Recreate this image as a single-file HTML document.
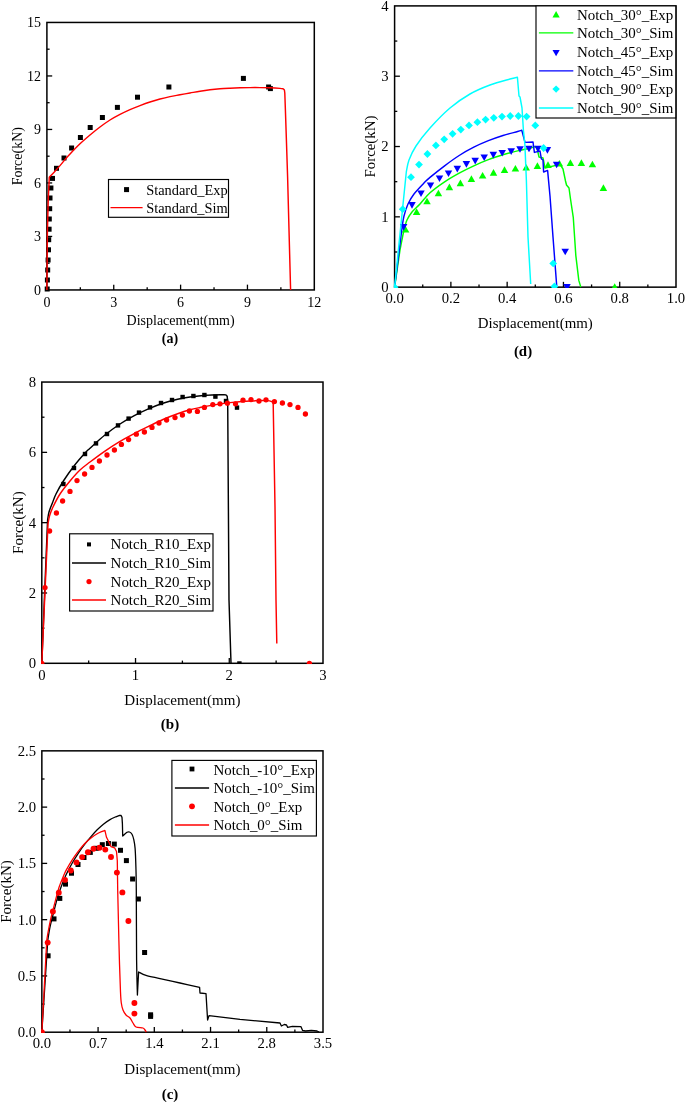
<!DOCTYPE html>
<html><head><meta charset="utf-8"><title>Force-Displacement curves</title>
<style>html,body{margin:0;padding:0;background:#fff}svg{display:block}text{font-family:"Liberation Serif", serif;fill:#000}</style>
</head><body>
<svg width="685" height="1102" viewBox="0 0 685 1102">
<rect width="685" height="1102" fill="#fff"/>
<rect x="46.9" y="22.45" width="267.4" height="267.5" fill="none" stroke="#000" stroke-width="1.5"/>
<line x1="80.33" y1="289.95" x2="80.33" y2="287.25" stroke="#000" stroke-width="1.3"/>
<text x="46.9" y="306.85" font-size="14" text-anchor="middle" >0</text>
<line x1="113.75" y1="289.95" x2="113.75" y2="284.65" stroke="#000" stroke-width="1.3"/>
<line x1="147.18" y1="289.95" x2="147.18" y2="287.25" stroke="#000" stroke-width="1.3"/>
<text x="113.75" y="306.85" font-size="14" text-anchor="middle" >3</text>
<line x1="180.6" y1="289.95" x2="180.6" y2="284.65" stroke="#000" stroke-width="1.3"/>
<line x1="214.03" y1="289.95" x2="214.03" y2="287.25" stroke="#000" stroke-width="1.3"/>
<text x="180.6" y="306.85" font-size="14" text-anchor="middle" >6</text>
<line x1="247.45" y1="289.95" x2="247.45" y2="284.65" stroke="#000" stroke-width="1.3"/>
<line x1="280.88" y1="289.95" x2="280.88" y2="287.25" stroke="#000" stroke-width="1.3"/>
<text x="247.45" y="306.85" font-size="14" text-anchor="middle" >9</text>
<text x="314.3" y="306.85" font-size="14" text-anchor="middle" >12</text>
<line x1="46.9" y1="263.2" x2="49.6" y2="263.2" stroke="#000" stroke-width="1.3"/>
<text x="41" y="294.57" font-size="14" text-anchor="end" >0</text>
<line x1="46.9" y1="236.45" x2="52.2" y2="236.45" stroke="#000" stroke-width="1.3"/>
<line x1="46.9" y1="209.7" x2="49.6" y2="209.7" stroke="#000" stroke-width="1.3"/>
<text x="41" y="241.07" font-size="14" text-anchor="end" >3</text>
<line x1="46.9" y1="182.95" x2="52.2" y2="182.95" stroke="#000" stroke-width="1.3"/>
<line x1="46.9" y1="156.2" x2="49.6" y2="156.2" stroke="#000" stroke-width="1.3"/>
<text x="41" y="187.57" font-size="14" text-anchor="end" >6</text>
<line x1="46.9" y1="129.45" x2="52.2" y2="129.45" stroke="#000" stroke-width="1.3"/>
<line x1="46.9" y1="102.7" x2="49.6" y2="102.7" stroke="#000" stroke-width="1.3"/>
<text x="41" y="134.07" font-size="14" text-anchor="end" >9</text>
<line x1="46.9" y1="75.95" x2="52.2" y2="75.95" stroke="#000" stroke-width="1.3"/>
<line x1="46.9" y1="49.2" x2="49.6" y2="49.2" stroke="#000" stroke-width="1.3"/>
<text x="41" y="80.57" font-size="14" text-anchor="end" >12</text>
<text x="41" y="27.07" font-size="14" text-anchor="end" >15</text>
<text x="180.6" y="324.95" font-size="14" text-anchor="middle" >Displacement(mm)</text>
<text x="170" y="343.45" font-size="14" text-anchor="middle" font-weight="bold" >(a)</text>
<text x="22.5" y="156.2" font-size="14" text-anchor="middle" transform="rotate(-90 22.5 156.2)" >Force(kN)</text>
<rect x="44.7" y="286.5" width="5" height="5" fill="#000000" />
<rect x="44.9" y="277.5" width="5" height="5" fill="#000000" />
<rect x="45.2" y="267.5" width="5" height="5" fill="#000000" />
<rect x="45.6" y="257.5" width="5" height="5" fill="#000000" />
<rect x="46" y="247.3" width="5" height="5" fill="#000000" />
<rect x="46.2" y="237.2" width="5" height="5" fill="#000000" />
<rect x="46.6" y="226.7" width="5" height="5" fill="#000000" />
<rect x="46.8" y="216.5" width="5" height="5" fill="#000000" />
<rect x="47.2" y="206.2" width="5" height="5" fill="#000000" />
<rect x="47.5" y="195.5" width="5" height="5" fill="#000000" />
<rect x="48.4" y="185.5" width="5" height="5" fill="#000000" />
<rect x="50" y="175.9" width="5" height="5" fill="#000000" />
<rect x="54" y="165.8" width="5" height="5" fill="#000000" />
<rect x="61.5" y="155.5" width="5" height="5" fill="#000000" />
<rect x="69.1" y="145.5" width="5" height="5" fill="#000000" />
<rect x="77.9" y="135" width="5" height="5" fill="#000000" />
<rect x="87.7" y="125" width="5" height="5" fill="#000000" />
<rect x="99.9" y="115" width="5" height="5" fill="#000000" />
<rect x="114.9" y="104.9" width="5" height="5" fill="#000000" />
<rect x="135" y="94.7" width="5" height="5" fill="#000000" />
<rect x="166.4" y="84.5" width="5" height="5" fill="#000000" />
<rect x="240.9" y="75.9" width="5" height="5" fill="#000000" />
<rect x="266.1" y="84.5" width="5" height="5" fill="#000000" />
<rect x="267.9" y="86.1" width="5" height="5" fill="#000000" />
<path d="M46.9,289.95 L47.4,232 L48.3,198 L49.3,177.2 C50.25,176.2 53.22,173.13 55,171.2 C56.78,169.27 58.33,167.53 60,165.6 C61.67,163.67 63.33,161.53 65,159.6 C66.67,157.67 67.5,156.63 70,154 C72.5,151.37 76.67,146.97 80,143.8 C83.33,140.63 86.67,137.8 90,135 C93.33,132.2 96.67,129.5 100,127 C103.33,124.5 106.67,122.1 110,120 C113.33,117.9 116.67,116.13 120,114.4 C123.33,112.67 126.67,111.07 130,109.6 C133.33,108.13 136.67,106.87 140,105.6 C143.33,104.33 146.67,103.1 150,102 C153.33,100.9 156.67,99.9 160,99 C163.33,98.1 166.67,97.3 170,96.6 C173.33,95.9 176.67,95.4 180,94.8 C183.33,94.2 186.67,93.6 190,93 C193.33,92.4 196.67,91.73 200,91.2 C203.33,90.67 206.67,90.2 210,89.8 C213.33,89.4 216.67,89.07 220,88.8 C223.33,88.53 226.67,88.37 230,88.2 C233.33,88.03 236.67,87.9 240,87.8 C243.33,87.7 246.67,87.63 250,87.6 C253.33,87.57 256.67,87.57 260,87.6 C263.33,87.63 266.67,87.67 270,87.8 C273.33,87.93 277.77,88.22 280,88.4 C282.23,88.58 282.83,88.82 283.4,88.9 L284.4,90 L284.8,93 L285.4,110 L286.4,140 L287.6,177 L290.6,289.95" fill="none" stroke="#ff0000" stroke-width="1.45" stroke-linejoin="round" />
<rect x="108.5" y="179.5" width="120" height="37.8" fill="#fff" stroke="#000" stroke-width="1.15"/>
<rect x="124.05" y="187.1" width="5" height="5" fill="#000000" />
<text x="146.2" y="194.6" font-size="14.4" text-anchor="start" >Standard_Exp</text>
<polyline points="110.5,207.7 142.6,207.7" fill="none" stroke="#ff0000" stroke-width="1.3" stroke-linejoin="round" stroke-linecap="butt" />
<text x="146.2" y="212.5" font-size="14.4" text-anchor="start" >Standard_Sim</text>
<rect x="394.6" y="5.9" width="281.4" height="281.25" fill="none" stroke="#000" stroke-width="1.5"/>
<line x1="422.74" y1="287.15" x2="422.74" y2="284.45" stroke="#000" stroke-width="1.3"/>
<text x="394.6" y="303.45" font-size="14.7" text-anchor="middle" >0.0</text>
<line x1="450.88" y1="287.15" x2="450.88" y2="281.85" stroke="#000" stroke-width="1.3"/>
<line x1="479.02" y1="287.15" x2="479.02" y2="284.45" stroke="#000" stroke-width="1.3"/>
<text x="450.88" y="303.45" font-size="14.7" text-anchor="middle" >0.2</text>
<line x1="507.16" y1="287.15" x2="507.16" y2="281.85" stroke="#000" stroke-width="1.3"/>
<line x1="535.3" y1="287.15" x2="535.3" y2="284.45" stroke="#000" stroke-width="1.3"/>
<text x="507.16" y="303.45" font-size="14.7" text-anchor="middle" >0.4</text>
<line x1="563.44" y1="287.15" x2="563.44" y2="281.85" stroke="#000" stroke-width="1.3"/>
<line x1="591.58" y1="287.15" x2="591.58" y2="284.45" stroke="#000" stroke-width="1.3"/>
<text x="563.44" y="303.45" font-size="14.7" text-anchor="middle" >0.6</text>
<line x1="619.72" y1="287.15" x2="619.72" y2="281.85" stroke="#000" stroke-width="1.3"/>
<line x1="647.86" y1="287.15" x2="647.86" y2="284.45" stroke="#000" stroke-width="1.3"/>
<text x="619.72" y="303.45" font-size="14.7" text-anchor="middle" >0.8</text>
<text x="676" y="303.45" font-size="14.7" text-anchor="middle" >1.0</text>
<line x1="394.6" y1="251.99" x2="397.3" y2="251.99" stroke="#000" stroke-width="1.3"/>
<text x="388.5" y="292" font-size="14.7" text-anchor="end" >0</text>
<line x1="394.6" y1="216.84" x2="399.9" y2="216.84" stroke="#000" stroke-width="1.3"/>
<line x1="394.6" y1="181.68" x2="397.3" y2="181.68" stroke="#000" stroke-width="1.3"/>
<text x="388.5" y="221.69" font-size="14.7" text-anchor="end" >1</text>
<line x1="394.6" y1="146.52" x2="399.9" y2="146.52" stroke="#000" stroke-width="1.3"/>
<line x1="394.6" y1="111.37" x2="397.3" y2="111.37" stroke="#000" stroke-width="1.3"/>
<text x="388.5" y="151.38" font-size="14.7" text-anchor="end" >2</text>
<line x1="394.6" y1="76.21" x2="399.9" y2="76.21" stroke="#000" stroke-width="1.3"/>
<line x1="394.6" y1="41.06" x2="397.3" y2="41.06" stroke="#000" stroke-width="1.3"/>
<text x="388.5" y="81.06" font-size="14.7" text-anchor="end" >3</text>
<text x="388.5" y="10.75" font-size="14.7" text-anchor="end" >4</text>
<text x="535.3" y="328.15" font-size="14.9" text-anchor="middle" >Displacement(mm)</text>
<text x="523" y="356.15" font-size="14.9" text-anchor="middle" font-weight="bold" >(d)</text>
<text x="375.5" y="146.52" font-size="14.9" text-anchor="middle" transform="rotate(-90 375.5 146.52)" >Force(kN)</text>
<clipPath id="clipd"><rect x="393.85" y="0.9000000000000004" width="286.4" height="287.0"/></clipPath>
<polygon points="405.6,225.9 401.85,232.5 409.35,232.5" fill="#00ff00" clip-path="url(#clipd)"/>
<polygon points="416.6,208.3 412.85,214.9 420.35,214.9" fill="#00ff00" clip-path="url(#clipd)"/>
<polygon points="427,197.7 423.25,204.3 430.75,204.3" fill="#00ff00" clip-path="url(#clipd)"/>
<polygon points="438.4,189.7 434.65,196.3 442.15,196.3" fill="#00ff00" clip-path="url(#clipd)"/>
<polygon points="449.4,183.6 445.65,190.2 453.15,190.2" fill="#00ff00" clip-path="url(#clipd)"/>
<polygon points="460.4,179.6 456.65,186.2 464.15,186.2" fill="#00ff00" clip-path="url(#clipd)"/>
<polygon points="471.4,175.3 467.65,181.9 475.15,181.9" fill="#00ff00" clip-path="url(#clipd)"/>
<polygon points="482.6,171.9 478.85,178.5 486.35,178.5" fill="#00ff00" clip-path="url(#clipd)"/>
<polygon points="493.5,169.1 489.75,175.7 497.25,175.7" fill="#00ff00" clip-path="url(#clipd)"/>
<polygon points="504.5,166.3 500.75,172.9 508.25,172.9" fill="#00ff00" clip-path="url(#clipd)"/>
<polygon points="515.4,165 511.65,171.6 519.15,171.6" fill="#00ff00" clip-path="url(#clipd)"/>
<polygon points="526.2,164 522.45,170.6 529.95,170.6" fill="#00ff00" clip-path="url(#clipd)"/>
<polygon points="537.4,162.3 533.65,168.9 541.15,168.9" fill="#00ff00" clip-path="url(#clipd)"/>
<polygon points="548,161.3 544.25,167.9 551.75,167.9" fill="#00ff00" clip-path="url(#clipd)"/>
<polygon points="559.4,159.9 555.65,166.5 563.15,166.5" fill="#00ff00" clip-path="url(#clipd)"/>
<polygon points="570.4,159.3 566.65,165.9 574.15,165.9" fill="#00ff00" clip-path="url(#clipd)"/>
<polygon points="581.4,159.3 577.65,165.9 585.15,165.9" fill="#00ff00" clip-path="url(#clipd)"/>
<polygon points="592.4,160.7 588.65,167.3 596.15,167.3" fill="#00ff00" clip-path="url(#clipd)"/>
<polygon points="603.4,184.3 599.65,190.9 607.15,190.9" fill="#00ff00" clip-path="url(#clipd)"/>
<polygon points="614.7,283.3 610.95,289.9 618.45,289.9" fill="#00ff00" clip-path="url(#clipd)"/>
<path d="M394.6,287.15 L400,250 C400.67,246.67 402.83,235 404,230 C405.17,225 405.67,223 407,220 C408.33,217 409.83,214.67 412,212 C414.17,209.33 417,207.2 420,204 C423,200.8 425.9,196.5 430,192.8 C434.1,189.1 439.73,185.08 444.6,181.8 C449.47,178.52 454.33,175.77 459.2,173.1 C464.07,170.43 468.93,168.05 473.8,165.8 C478.67,163.55 483.53,161.43 488.4,159.6 C493.27,157.77 498.13,156.25 503,154.8 C507.87,153.35 513.1,152 517.6,150.9 C522.1,149.8 527.1,148.92 530,148.2 C532.9,147.48 534.17,146.87 535,146.6 L537,148 L539,157 L543,158 L545,168 L560,164.4 L563,169 L565.5,181 L566.5,185 L569,188 L570.5,199 L573.3,217.7 L575.8,255.3 L578.8,280.4 L580.8,287.15" fill="none" stroke="#00ff00" stroke-width="1.45" stroke-linejoin="round" />
<polygon points="403.6,230.7 399.85,224.1 407.35,224.1" fill="#0000ff" clip-path="url(#clipd)"/>
<polygon points="412,208.7 408.25,202.1 415.75,202.1" fill="#0000ff" clip-path="url(#clipd)"/>
<polygon points="421,197.1 417.25,190.5 424.75,190.5" fill="#0000ff" clip-path="url(#clipd)"/>
<polygon points="430.5,189.1 426.75,182.5 434.25,182.5" fill="#0000ff" clip-path="url(#clipd)"/>
<polygon points="439.5,182 435.75,175.4 443.25,175.4" fill="#0000ff" clip-path="url(#clipd)"/>
<polygon points="448.5,177 444.75,170.4 452.25,170.4" fill="#0000ff" clip-path="url(#clipd)"/>
<polygon points="457.3,172.4 453.55,165.8 461.05,165.8" fill="#0000ff" clip-path="url(#clipd)"/>
<polygon points="466.4,167.7 462.65,161.1 470.15,161.1" fill="#0000ff" clip-path="url(#clipd)"/>
<polygon points="475.2,164.4 471.45,157.8 478.95,157.8" fill="#0000ff" clip-path="url(#clipd)"/>
<polygon points="484.2,161.1 480.45,154.5 487.95,154.5" fill="#0000ff" clip-path="url(#clipd)"/>
<polygon points="493.3,158.4 489.55,151.8 497.05,151.8" fill="#0000ff" clip-path="url(#clipd)"/>
<polygon points="502.2,156.5 498.45,149.9 505.95,149.9" fill="#0000ff" clip-path="url(#clipd)"/>
<polygon points="511.2,154.9 507.45,148.3 514.95,148.3" fill="#0000ff" clip-path="url(#clipd)"/>
<polygon points="520,152.8 516.25,146.2 523.75,146.2" fill="#0000ff" clip-path="url(#clipd)"/>
<polygon points="529,152.3 525.25,145.7 532.75,145.7" fill="#0000ff" clip-path="url(#clipd)"/>
<polygon points="538,152.3 534.25,145.7 541.75,145.7" fill="#0000ff" clip-path="url(#clipd)"/>
<polygon points="547.4,153.7 543.65,147.1 551.15,147.1" fill="#0000ff" clip-path="url(#clipd)"/>
<polygon points="556.6,168.3 552.85,161.7 560.35,161.7" fill="#0000ff" clip-path="url(#clipd)"/>
<polygon points="565.2,255.3 561.45,248.7 568.95,248.7" fill="#0000ff" clip-path="url(#clipd)"/>
<polygon points="567,290.7 563.25,284.1 570.75,284.1" fill="#0000ff" clip-path="url(#clipd)"/>
<path d="M394.6,287.15 L402,228 C402.33,226 403,220 404,216 C405,212 406.33,207.67 408,204 C409.67,200.33 411.33,197.5 414,194 C416.67,190.5 421.33,185.77 424,183 C426.67,180.23 426.57,180.27 430,177.4 C433.43,174.53 439.73,169.45 444.6,165.8 C449.47,162.15 454.33,158.6 459.2,155.5 C464.07,152.4 468.93,149.67 473.8,147.2 C478.67,144.73 483.53,142.65 488.4,140.7 C493.27,138.75 498.13,137.03 503,135.5 C507.87,133.97 514.47,132.38 517.6,131.5 C520.73,130.62 521.1,130.42 521.8,130.2 L525,142.4 L533,142 L534.4,152.4 L540,151 L541.4,159 L543,160 L543.6,172 L547.6,170.4 L550,196 L553,237 L556.8,287.15" fill="none" stroke="#0000ff" stroke-width="1.45" stroke-linejoin="round" />
<polygon points="394.6,283.3 398.5,287.2 394.6,291.1 390.7,287.2" fill="#00ffff" clip-path="url(#clipd)"/>
<polygon points="402.7,205.3 406.6,209.2 402.7,213.1 398.8,209.2" fill="#00ffff" clip-path="url(#clipd)"/>
<polygon points="411,173.3 414.9,177.2 411,181.1 407.1,177.2" fill="#00ffff" clip-path="url(#clipd)"/>
<polygon points="419,160.7 422.9,164.6 419,168.5 415.1,164.6" fill="#00ffff" clip-path="url(#clipd)"/>
<polygon points="427.4,150.1 431.3,154 427.4,157.9 423.5,154" fill="#00ffff" clip-path="url(#clipd)"/>
<polygon points="435.9,141.5 439.8,145.4 435.9,149.3 432,145.4" fill="#00ffff" clip-path="url(#clipd)"/>
<polygon points="444.2,135.4 448.1,139.3 444.2,143.2 440.3,139.3" fill="#00ffff" clip-path="url(#clipd)"/>
<polygon points="452.6,129.9 456.5,133.8 452.6,137.7 448.7,133.8" fill="#00ffff" clip-path="url(#clipd)"/>
<polygon points="460.8,125.7 464.7,129.6 460.8,133.5 456.9,129.6" fill="#00ffff" clip-path="url(#clipd)"/>
<polygon points="469,121.5 472.9,125.4 469,129.3 465.1,125.4" fill="#00ffff" clip-path="url(#clipd)"/>
<polygon points="477.4,118.3 481.3,122.2 477.4,126.1 473.5,122.2" fill="#00ffff" clip-path="url(#clipd)"/>
<polygon points="485.6,115.7 489.5,119.6 485.6,123.5 481.7,119.6" fill="#00ffff" clip-path="url(#clipd)"/>
<polygon points="493.8,113.9 497.7,117.8 493.8,121.7 489.9,117.8" fill="#00ffff" clip-path="url(#clipd)"/>
<polygon points="502,112.7 505.9,116.6 502,120.5 498.1,116.6" fill="#00ffff" clip-path="url(#clipd)"/>
<polygon points="510.2,112.1 514.1,116 510.2,119.9 506.3,116" fill="#00ffff" clip-path="url(#clipd)"/>
<polygon points="518.4,112.1 522.3,116 518.4,119.9 514.5,116" fill="#00ffff" clip-path="url(#clipd)"/>
<polygon points="526.6,112.7 530.5,116.6 526.6,120.5 522.7,116.6" fill="#00ffff" clip-path="url(#clipd)"/>
<polygon points="535.3,121.5 539.2,125.4 535.3,129.3 531.4,125.4" fill="#00ffff" clip-path="url(#clipd)"/>
<polygon points="543.6,144.1 547.5,148 543.6,151.9 539.7,148" fill="#00ffff" clip-path="url(#clipd)"/>
<polygon points="553.2,259.5 557.1,263.4 553.2,267.3 549.3,263.4" fill="#00ffff" clip-path="url(#clipd)"/>
<polygon points="554.4,282.6 558.3,286.5 554.4,290.4 550.5,286.5" fill="#00ffff" clip-path="url(#clipd)"/>
<path d="M394.6,287.15 L406.3,172 C406.75,170 407.38,164.33 409,160 C410.62,155.67 412.5,151.33 416,146 C419.5,140.67 424.33,134.33 430,128 C435.67,121.67 443.33,113.67 450,108 C456.67,102.33 463.33,97.83 470,94 C476.67,90.17 483.33,87.5 490,85 C496.67,82.5 505.43,80.3 510,79 C514.57,77.7 516.17,77.5 517.4,77.2 L519,96 L520,97 L522,108 L523.4,130 L524.9,144.6 L526.4,181 L528,237 L530.7,284" fill="none" stroke="#00ffff" stroke-width="1.45" stroke-linejoin="round" />
<rect x="536" y="5.9" width="139.8" height="112.1" fill="#fff" stroke="#000" stroke-width="1.15"/>
<polygon points="556.1,11.05 552.5,17.39 559.7,17.39" fill="#00ff00" />
<text x="576.9" y="19.6" font-size="14.95" text-anchor="start" >Notch_30°_Exp</text>
<polyline points="538.9,32.8 573.3,32.8" fill="none" stroke="#00ff00" stroke-width="1.3" stroke-linejoin="round" stroke-linecap="butt" />
<text x="576.9" y="38.25" font-size="14.95" text-anchor="start" >Notch_30°_Sim</text>
<polygon points="556.1,56.25 552.5,49.91 559.7,49.91" fill="#0000ff" />
<text x="576.9" y="57.25" font-size="14.95" text-anchor="start" >Notch_45°_Exp</text>
<polyline points="538.9,70.8 573.3,70.8" fill="none" stroke="#0000ff" stroke-width="1.3" stroke-linejoin="round" stroke-linecap="butt" />
<text x="576.9" y="75.8" font-size="14.95" text-anchor="start" >Notch_45°_Sim</text>
<polygon points="556.1,85.4 559.8,89.1 556.1,92.8 552.4,89.1" fill="#00ffff" />
<text x="576.9" y="94.1" font-size="14.95" text-anchor="start" >Notch_90°_Exp</text>
<polyline points="538.9,108 573.3,108" fill="none" stroke="#00ffff" stroke-width="1.3" stroke-linejoin="round" stroke-linecap="butt" />
<text x="576.9" y="113" font-size="14.95" text-anchor="start" >Notch_90°_Sim</text>
<rect x="41.8" y="382.05" width="281.2" height="281.25" fill="none" stroke="#000" stroke-width="1.5"/>
<line x1="88.67" y1="663.3" x2="88.67" y2="660.6" stroke="#000" stroke-width="1.3"/>
<text x="41.8" y="680.3" font-size="14.7" text-anchor="middle" >0</text>
<line x1="135.53" y1="663.3" x2="135.53" y2="658" stroke="#000" stroke-width="1.3"/>
<line x1="182.4" y1="663.3" x2="182.4" y2="660.6" stroke="#000" stroke-width="1.3"/>
<text x="135.53" y="680.3" font-size="14.7" text-anchor="middle" >1</text>
<line x1="229.27" y1="663.3" x2="229.27" y2="658" stroke="#000" stroke-width="1.3"/>
<line x1="276.13" y1="663.3" x2="276.13" y2="660.6" stroke="#000" stroke-width="1.3"/>
<text x="229.27" y="680.3" font-size="14.7" text-anchor="middle" >2</text>
<text x="323" y="680.3" font-size="14.7" text-anchor="middle" >3</text>
<line x1="41.8" y1="628.14" x2="44.5" y2="628.14" stroke="#000" stroke-width="1.3"/>
<text x="36" y="668.15" font-size="14.7" text-anchor="end" >0</text>
<line x1="41.8" y1="592.99" x2="47.1" y2="592.99" stroke="#000" stroke-width="1.3"/>
<line x1="41.8" y1="557.83" x2="44.5" y2="557.83" stroke="#000" stroke-width="1.3"/>
<text x="36" y="597.84" font-size="14.7" text-anchor="end" >2</text>
<line x1="41.8" y1="522.67" x2="47.1" y2="522.67" stroke="#000" stroke-width="1.3"/>
<line x1="41.8" y1="487.52" x2="44.5" y2="487.52" stroke="#000" stroke-width="1.3"/>
<text x="36" y="527.53" font-size="14.7" text-anchor="end" >4</text>
<line x1="41.8" y1="452.36" x2="47.1" y2="452.36" stroke="#000" stroke-width="1.3"/>
<line x1="41.8" y1="417.21" x2="44.5" y2="417.21" stroke="#000" stroke-width="1.3"/>
<text x="36" y="457.21" font-size="14.7" text-anchor="end" >6</text>
<text x="36" y="386.9" font-size="14.7" text-anchor="end" >8</text>
<text x="182.4" y="705.3" font-size="15.05" text-anchor="middle" >Displacement(mm)</text>
<text x="170" y="729.3" font-size="15.05" text-anchor="middle" font-weight="bold" >(b)</text>
<text x="22.9" y="522.67" font-size="15.05" text-anchor="middle" transform="rotate(-90 22.9 522.67)" >Force(kN)</text>
<clipPath id="clipb"><rect x="41.05" y="382.05" width="286.2" height="281.99999999999994"/></clipPath>
<rect x="61.2" y="481.8" width="4.4" height="4.4" fill="#000000" clip-path="url(#clipb)"/>
<rect x="71.8" y="465.8" width="4.4" height="4.4" fill="#000000" clip-path="url(#clipb)"/>
<rect x="82.8" y="451.8" width="4.4" height="4.4" fill="#000000" clip-path="url(#clipb)"/>
<rect x="93.8" y="441.2" width="4.4" height="4.4" fill="#000000" clip-path="url(#clipb)"/>
<rect x="104.8" y="431.8" width="4.4" height="4.4" fill="#000000" clip-path="url(#clipb)"/>
<rect x="115.8" y="423.2" width="4.4" height="4.4" fill="#000000" clip-path="url(#clipb)"/>
<rect x="126.4" y="416.4" width="4.4" height="4.4" fill="#000000" clip-path="url(#clipb)"/>
<rect x="136.8" y="410.4" width="4.4" height="4.4" fill="#000000" clip-path="url(#clipb)"/>
<rect x="147.8" y="405.2" width="4.4" height="4.4" fill="#000000" clip-path="url(#clipb)"/>
<rect x="158.8" y="400.8" width="4.4" height="4.4" fill="#000000" clip-path="url(#clipb)"/>
<rect x="169.8" y="397.8" width="4.4" height="4.4" fill="#000000" clip-path="url(#clipb)"/>
<rect x="180.4" y="394.8" width="4.4" height="4.4" fill="#000000" clip-path="url(#clipb)"/>
<rect x="191.2" y="393.8" width="4.4" height="4.4" fill="#000000" clip-path="url(#clipb)"/>
<rect x="202.2" y="392.8" width="4.4" height="4.4" fill="#000000" clip-path="url(#clipb)"/>
<rect x="213.2" y="394.4" width="4.4" height="4.4" fill="#000000" clip-path="url(#clipb)"/>
<rect x="223.8" y="398.8" width="4.4" height="4.4" fill="#000000" clip-path="url(#clipb)"/>
<rect x="234.8" y="405.4" width="4.4" height="4.4" fill="#000000" clip-path="url(#clipb)"/>
<rect x="237.2" y="661.3" width="4.4" height="4.4" fill="#000000" clip-path="url(#clipb)"/>
<path d="M41.8,663.3 L47.6,520 C47.83,518.67 48.2,514.83 49,512 C49.8,509.17 51.23,506 52.4,503 C53.57,500 54.17,497.67 56,494 C57.83,490.33 60.4,485.67 63.4,481 C66.4,476.33 70.4,470.67 74,466 C77.6,461.33 82.33,455.97 85,453 C87.67,450.03 86.73,451.15 90,448.2 C93.27,445.25 99.73,439.25 104.6,435.3 C109.47,431.35 114.33,427.75 119.2,424.5 C124.07,421.25 128.93,418.42 133.8,415.8 C138.67,413.18 143.53,410.9 148.4,408.8 C153.27,406.7 158.13,404.78 163,403.2 C167.87,401.62 173.1,400.33 177.6,399.3 C182.1,398.27 185.27,397.68 190,397 C194.73,396.32 200.33,395.6 206,395.2 C211.67,394.8 221,394.7 224,394.6 L226,394.9 L227.2,396.2 L227.7,402 L229,600 L231,663.3" fill="none" stroke="#000000" stroke-width="1.45" stroke-linejoin="round" />
<circle cx="41.8" cy="663.3" r="2.65" fill="#ff0000" clip-path="url(#clipb)"/>
<circle cx="45" cy="587.6" r="2.65" fill="#ff0000" clip-path="url(#clipb)"/>
<circle cx="49.6" cy="531" r="2.65" fill="#ff0000" clip-path="url(#clipb)"/>
<circle cx="56.4" cy="513" r="2.65" fill="#ff0000" clip-path="url(#clipb)"/>
<circle cx="62.6" cy="501" r="2.65" fill="#ff0000" clip-path="url(#clipb)"/>
<circle cx="70" cy="491.4" r="2.65" fill="#ff0000" clip-path="url(#clipb)"/>
<circle cx="77" cy="480.6" r="2.65" fill="#ff0000" clip-path="url(#clipb)"/>
<circle cx="84.6" cy="474" r="2.65" fill="#ff0000" clip-path="url(#clipb)"/>
<circle cx="92" cy="467.4" r="2.65" fill="#ff0000" clip-path="url(#clipb)"/>
<circle cx="99.4" cy="461" r="2.65" fill="#ff0000" clip-path="url(#clipb)"/>
<circle cx="107" cy="455" r="2.65" fill="#ff0000" clip-path="url(#clipb)"/>
<circle cx="114.4" cy="450" r="2.65" fill="#ff0000" clip-path="url(#clipb)"/>
<circle cx="121.4" cy="444.4" r="2.65" fill="#ff0000" clip-path="url(#clipb)"/>
<circle cx="128.6" cy="439.6" r="2.65" fill="#ff0000" clip-path="url(#clipb)"/>
<circle cx="136.3" cy="434.2" r="2.65" fill="#ff0000" clip-path="url(#clipb)"/>
<circle cx="144.4" cy="432" r="2.65" fill="#ff0000" clip-path="url(#clipb)"/>
<circle cx="152" cy="427.4" r="2.65" fill="#ff0000" clip-path="url(#clipb)"/>
<circle cx="159" cy="423" r="2.65" fill="#ff0000" clip-path="url(#clipb)"/>
<circle cx="166.6" cy="420" r="2.65" fill="#ff0000" clip-path="url(#clipb)"/>
<circle cx="175" cy="417.6" r="2.65" fill="#ff0000" clip-path="url(#clipb)"/>
<circle cx="182.4" cy="415" r="2.65" fill="#ff0000" clip-path="url(#clipb)"/>
<circle cx="189.4" cy="411" r="2.65" fill="#ff0000" clip-path="url(#clipb)"/>
<circle cx="197.4" cy="411.4" r="2.65" fill="#ff0000" clip-path="url(#clipb)"/>
<circle cx="204.4" cy="407.4" r="2.65" fill="#ff0000" clip-path="url(#clipb)"/>
<circle cx="212.8" cy="404.6" r="2.65" fill="#ff0000" clip-path="url(#clipb)"/>
<circle cx="220" cy="403.8" r="2.65" fill="#ff0000" clip-path="url(#clipb)"/>
<circle cx="227.4" cy="403.2" r="2.65" fill="#ff0000" clip-path="url(#clipb)"/>
<circle cx="235.5" cy="403.8" r="2.65" fill="#ff0000" clip-path="url(#clipb)"/>
<circle cx="243" cy="400.2" r="2.65" fill="#ff0000" clip-path="url(#clipb)"/>
<circle cx="251" cy="399.6" r="2.65" fill="#ff0000" clip-path="url(#clipb)"/>
<circle cx="259" cy="401" r="2.65" fill="#ff0000" clip-path="url(#clipb)"/>
<circle cx="266" cy="399.8" r="2.65" fill="#ff0000" clip-path="url(#clipb)"/>
<circle cx="274.4" cy="401.6" r="2.65" fill="#ff0000" clip-path="url(#clipb)"/>
<circle cx="282.4" cy="403" r="2.65" fill="#ff0000" clip-path="url(#clipb)"/>
<circle cx="290" cy="404.6" r="2.65" fill="#ff0000" clip-path="url(#clipb)"/>
<circle cx="298" cy="407.4" r="2.65" fill="#ff0000" clip-path="url(#clipb)"/>
<circle cx="305.4" cy="414" r="2.65" fill="#ff0000" clip-path="url(#clipb)"/>
<circle cx="309.4" cy="663.5" r="2.65" fill="#ff0000" clip-path="url(#clipb)"/>
<path d="M41.8,663.3 L48,524 C48.25,522.67 48.67,518.83 49.5,516 C50.33,513.17 51.25,510.67 53,507 C54.75,503.33 57.17,498.33 60,494 C62.83,489.67 66.67,485 70,481 C73.33,477 76.67,473.17 80,470 C83.33,466.83 85.9,465.12 90,462 C94.1,458.88 99.73,454.67 104.6,451.3 C109.47,447.93 114.33,444.72 119.2,441.8 C124.07,438.88 128.93,436.35 133.8,433.8 C138.67,431.25 143.53,428.88 148.4,426.5 C153.27,424.12 158.13,421.62 163,419.5 C167.87,417.38 173.1,415.42 177.6,413.8 C182.1,412.18 186.27,410.85 190,409.8 C193.73,408.75 196.67,408.2 200,407.5 C203.33,406.8 205,406.42 210,405.6 C215,404.78 223.33,403.37 230,402.6 C236.67,401.83 243.83,401.33 250,401 C256.17,400.67 263.25,400.43 267,400.6 C270.75,400.77 271.58,401.77 272.5,402 L273.2,404 L275,507 L276,600 L276.8,643.6" fill="none" stroke="#ff0000" stroke-width="1.45" stroke-linejoin="round" />
<rect x="69.6" y="533.8" width="143.4" height="77.2" fill="#fff" stroke="#000" stroke-width="1.15"/>
<rect x="87" y="542.4" width="4" height="4" fill="#000000" />
<text x="110.6" y="549.4" font-size="14.95" text-anchor="start" >Notch_R10_Exp</text>
<polyline points="72,563 106,563" fill="none" stroke="#000000" stroke-width="1.3" stroke-linejoin="round" stroke-linecap="butt" />
<text x="110.6" y="568" font-size="14.95" text-anchor="start" >Notch_R10_Sim</text>
<circle cx="89" cy="581.6" r="2.6" fill="#ff0000" />
<text x="110.6" y="586.6" font-size="14.95" text-anchor="start" >Notch_R20_Exp</text>
<polyline points="72,600 106,600" fill="none" stroke="#ff0000" stroke-width="1.3" stroke-linejoin="round" stroke-linecap="butt" />
<text x="110.6" y="605" font-size="14.95" text-anchor="start" >Notch_R20_Sim</text>
<rect x="41.85" y="750.85" width="281.15" height="281.35" fill="none" stroke="#000" stroke-width="1.5"/>
<line x1="69.97" y1="1032.2" x2="69.97" y2="1029.5" stroke="#000" stroke-width="1.3"/>
<text x="41.85" y="1048.2" font-size="14.7" text-anchor="middle" >0.0</text>
<line x1="98.08" y1="1032.2" x2="98.08" y2="1026.9" stroke="#000" stroke-width="1.3"/>
<line x1="126.19" y1="1032.2" x2="126.19" y2="1029.5" stroke="#000" stroke-width="1.3"/>
<text x="98.08" y="1048.2" font-size="14.7" text-anchor="middle" >0.7</text>
<line x1="154.31" y1="1032.2" x2="154.31" y2="1026.9" stroke="#000" stroke-width="1.3"/>
<line x1="182.42" y1="1032.2" x2="182.42" y2="1029.5" stroke="#000" stroke-width="1.3"/>
<text x="154.31" y="1048.2" font-size="14.7" text-anchor="middle" >1.4</text>
<line x1="210.54" y1="1032.2" x2="210.54" y2="1026.9" stroke="#000" stroke-width="1.3"/>
<line x1="238.65" y1="1032.2" x2="238.65" y2="1029.5" stroke="#000" stroke-width="1.3"/>
<text x="210.54" y="1048.2" font-size="14.7" text-anchor="middle" >2.1</text>
<line x1="266.77" y1="1032.2" x2="266.77" y2="1026.9" stroke="#000" stroke-width="1.3"/>
<line x1="294.88" y1="1032.2" x2="294.88" y2="1029.5" stroke="#000" stroke-width="1.3"/>
<text x="266.77" y="1048.2" font-size="14.7" text-anchor="middle" >2.8</text>
<text x="323" y="1048.2" font-size="14.7" text-anchor="middle" >3.5</text>
<line x1="41.85" y1="1004.07" x2="44.55" y2="1004.07" stroke="#000" stroke-width="1.3"/>
<text x="36" y="1037.05" font-size="14.7" text-anchor="end" >0.0</text>
<line x1="41.85" y1="975.93" x2="47.15" y2="975.93" stroke="#000" stroke-width="1.3"/>
<line x1="41.85" y1="947.8" x2="44.55" y2="947.8" stroke="#000" stroke-width="1.3"/>
<text x="36" y="980.78" font-size="14.7" text-anchor="end" >0.5</text>
<line x1="41.85" y1="919.66" x2="47.15" y2="919.66" stroke="#000" stroke-width="1.3"/>
<line x1="41.85" y1="891.53" x2="44.55" y2="891.53" stroke="#000" stroke-width="1.3"/>
<text x="36" y="924.51" font-size="14.7" text-anchor="end" >1.0</text>
<line x1="41.85" y1="863.39" x2="47.15" y2="863.39" stroke="#000" stroke-width="1.3"/>
<line x1="41.85" y1="835.25" x2="44.55" y2="835.25" stroke="#000" stroke-width="1.3"/>
<text x="36" y="868.24" font-size="14.7" text-anchor="end" >1.5</text>
<line x1="41.85" y1="807.12" x2="47.15" y2="807.12" stroke="#000" stroke-width="1.3"/>
<line x1="41.85" y1="778.99" x2="44.55" y2="778.99" stroke="#000" stroke-width="1.3"/>
<text x="36" y="811.97" font-size="14.7" text-anchor="end" >2.0</text>
<text x="36" y="755.7" font-size="14.7" text-anchor="end" >2.5</text>
<text x="182.43" y="1074.2" font-size="15.05" text-anchor="middle" >Displacement(mm)</text>
<text x="170" y="1098.7" font-size="15.05" text-anchor="middle" font-weight="bold" >(c)</text>
<text x="11" y="891.53" font-size="15.05" text-anchor="middle" transform="rotate(-90 11 891.53)" >Force(kN)</text>
<clipPath id="clipc"><rect x="41.1" y="750.85" width="286.15" height="282.1"/></clipPath>
<rect x="45.6" y="953.3" width="5" height="5" fill="#000000" clip-path="url(#clipc)"/>
<rect x="51.5" y="916.4" width="5" height="5" fill="#000000" clip-path="url(#clipc)"/>
<rect x="57.3" y="895.9" width="5" height="5" fill="#000000" clip-path="url(#clipc)"/>
<rect x="63" y="881.6" width="5" height="5" fill="#000000" clip-path="url(#clipc)"/>
<rect x="69" y="870.7" width="5" height="5" fill="#000000" clip-path="url(#clipc)"/>
<rect x="75.5" y="862" width="5" height="5" fill="#000000" clip-path="url(#clipc)"/>
<rect x="81.5" y="855" width="5" height="5" fill="#000000" clip-path="url(#clipc)"/>
<rect x="87.8" y="849.9" width="5" height="5" fill="#000000" clip-path="url(#clipc)"/>
<rect x="93.8" y="845.8" width="5" height="5" fill="#000000" clip-path="url(#clipc)"/>
<rect x="99.8" y="842.2" width="5" height="5" fill="#000000" clip-path="url(#clipc)"/>
<rect x="105.9" y="841" width="5" height="5" fill="#000000" clip-path="url(#clipc)"/>
<rect x="111.8" y="841.6" width="5" height="5" fill="#000000" clip-path="url(#clipc)"/>
<rect x="118" y="847.8" width="5" height="5" fill="#000000" clip-path="url(#clipc)"/>
<rect x="123.9" y="858.1" width="5" height="5" fill="#000000" clip-path="url(#clipc)"/>
<rect x="130.1" y="876.5" width="5" height="5" fill="#000000" clip-path="url(#clipc)"/>
<rect x="135.9" y="896.5" width="5" height="5" fill="#000000" clip-path="url(#clipc)"/>
<rect x="142.1" y="950" width="5" height="5" fill="#000000" clip-path="url(#clipc)"/>
<rect x="148.1" y="1012.3" width="5" height="5" fill="#000000" clip-path="url(#clipc)"/>
<rect x="148.1" y="1013.9" width="5" height="5" fill="#000000" clip-path="url(#clipc)"/>
<path d="M41.85,1032.2 L47.8,940 C48.17,937.83 49.13,931.18 50,927 C50.87,922.82 51.67,920.08 53,914.9 C54.33,909.72 56.33,901.4 58,895.9 C59.67,890.4 61.63,885.47 63,881.9 C64.37,878.33 64.63,877.7 66.2,874.5 C67.77,871.3 70.33,866.32 72.4,862.7 C74.47,859.08 76.53,855.9 78.6,852.8 C80.67,849.7 82.73,846.8 84.8,844.1 C86.87,841.4 88.93,838.98 91,836.6 C93.07,834.22 95.13,831.87 97.2,829.8 C99.27,827.73 101.33,825.85 103.4,824.2 C105.47,822.55 107.53,821.13 109.6,819.9 C111.67,818.67 114.13,817.57 115.8,816.8 C117.47,816.03 118.97,815.55 119.6,815.3 L121.1,815.5 L122,817.4 L122.4,823.6 L122.7,836 C123.42,835.38 125.87,832.97 127,832.3 C128.13,831.63 128.67,831.68 129.5,832 C130.33,832.32 131.28,832.92 132,834.2 C132.72,835.48 133.28,837.33 133.8,839.7 C134.32,842.07 134.75,843.85 135.1,848.4 C135.45,852.95 135.7,860.07 135.9,867 C136.1,873.93 136.18,874.5 136.3,890 C136.42,905.5 136.42,942.5 136.6,960 C136.78,977.5 137.27,989.17 137.4,995 L138.6,972 C139.83,972.57 142.43,974.3 146,975.4 C149.57,976.5 154.33,977.33 160,978.6 C165.67,979.87 173.4,981.53 180,983 C186.6,984.47 196.33,986.67 199.6,987.4 L200,993 L206,993.6 L207.6,1020 L209,1015.6 L240,1019.4 L280,1023 L281.4,1026 L284.3,1024.5 L286.5,1025 L287.7,1027.4 L292.3,1026.4 L301,1026.7 L302.6,1030.4 L305.5,1031 L311.3,1030.4 L317,1031 L319,1032" fill="none" stroke="#000000" stroke-width="1.3" stroke-linejoin="round" />
<circle cx="41.85" cy="1032.2" r="2.95" fill="#ff0000" clip-path="url(#clipc)"/>
<circle cx="47.7" cy="942.6" r="2.95" fill="#ff0000" clip-path="url(#clipc)"/>
<circle cx="52.9" cy="911.5" r="2.95" fill="#ff0000" clip-path="url(#clipc)"/>
<circle cx="58.8" cy="892.8" r="2.95" fill="#ff0000" clip-path="url(#clipc)"/>
<circle cx="65" cy="879.9" r="2.95" fill="#ff0000" clip-path="url(#clipc)"/>
<circle cx="70.8" cy="870.5" r="2.95" fill="#ff0000" clip-path="url(#clipc)"/>
<circle cx="76.5" cy="862.4" r="2.95" fill="#ff0000" clip-path="url(#clipc)"/>
<circle cx="82.1" cy="857.1" r="2.95" fill="#ff0000" clip-path="url(#clipc)"/>
<circle cx="87.9" cy="852.2" r="2.95" fill="#ff0000" clip-path="url(#clipc)"/>
<circle cx="93.5" cy="848.8" r="2.95" fill="#ff0000" clip-path="url(#clipc)"/>
<circle cx="99.5" cy="847.7" r="2.95" fill="#ff0000" clip-path="url(#clipc)"/>
<circle cx="105.3" cy="849.6" r="2.95" fill="#ff0000" clip-path="url(#clipc)"/>
<circle cx="111" cy="857" r="2.95" fill="#ff0000" clip-path="url(#clipc)"/>
<circle cx="116.9" cy="872.6" r="2.95" fill="#ff0000" clip-path="url(#clipc)"/>
<circle cx="122.4" cy="892.4" r="2.95" fill="#ff0000" clip-path="url(#clipc)"/>
<circle cx="128.4" cy="921" r="2.95" fill="#ff0000" clip-path="url(#clipc)"/>
<circle cx="134.4" cy="1003" r="2.95" fill="#ff0000" clip-path="url(#clipc)"/>
<circle cx="134.4" cy="1013.6" r="2.95" fill="#ff0000" clip-path="url(#clipc)"/>
<path d="M41.85,1032.2 L46.8,940 C47,938.75 47.38,935.83 48,932.5 C48.62,929.17 49.67,923.77 50.5,920 C51.33,916.23 51.75,914.77 53,909.9 C54.25,905.03 56.83,895.02 58,890.8 C59.17,886.58 59.17,886.87 60,884.6 C60.83,882.33 61.97,879.62 63,877.2 C64.03,874.78 64.63,873.03 66.2,870.1 C67.77,867.17 70.33,862.8 72.4,859.6 C74.47,856.4 76.53,853.58 78.6,850.9 C80.67,848.22 82.73,845.67 84.8,843.5 C86.87,841.33 88.93,839.52 91,837.9 C93.07,836.28 95.33,834.88 97.2,833.8 C99.07,832.72 100.92,831.97 102.2,831.4 C103.48,830.83 104.45,830.57 104.9,830.4 L106.5,837.3 L108.4,841 L110.9,846.6 L114.6,847.8 L116.5,851.5 L117.3,860.8 L117.7,890 C117.82,895 118.12,908.33 118.4,920 C118.68,931.67 119.05,948 119.4,960 C119.75,972 120.18,984.83 120.5,992 C120.82,999.17 120.88,1000 121.3,1003 C121.72,1006 122.22,1008 123,1010 C123.78,1012 124.83,1013.67 126,1015 C127.17,1016.33 128.83,1016.67 130,1018 C131.17,1019.33 132,1021.5 133,1023 C134,1024.5 134.33,1026.17 136,1027 C137.67,1027.83 141.5,1027.5 143,1028 C144.5,1028.5 144.43,1029.3 145,1030 C145.57,1030.7 146.17,1031.83 146.4,1032.2" fill="none" stroke="#ff0000" stroke-width="1.3" stroke-linejoin="round" />
<rect x="171.9" y="760.4" width="144.5" height="75.6" fill="#fff" stroke="#000" stroke-width="1.15"/>
<rect x="189.6" y="766.6" width="4.8" height="4.8" fill="#000000" />
<text x="213.4" y="774.5" font-size="14.95" text-anchor="start" >Notch_-10°_Exp</text>
<polyline points="174.9,788 209.1,788" fill="none" stroke="#000000" stroke-width="1.3" stroke-linejoin="round" stroke-linecap="butt" />
<text x="213.4" y="793" font-size="14.95" text-anchor="start" >Notch_-10°_Sim</text>
<circle cx="192" cy="806.3" r="2.9" fill="#ff0000" />
<text x="213.4" y="811.5" font-size="14.95" text-anchor="start" >Notch_0°_Exp</text>
<polyline points="174.9,825 209.1,825" fill="none" stroke="#ff0000" stroke-width="1.3" stroke-linejoin="round" stroke-linecap="butt" />
<text x="213.4" y="830.1" font-size="14.95" text-anchor="start" >Notch_0°_Sim</text>
</svg>
</body></html>
